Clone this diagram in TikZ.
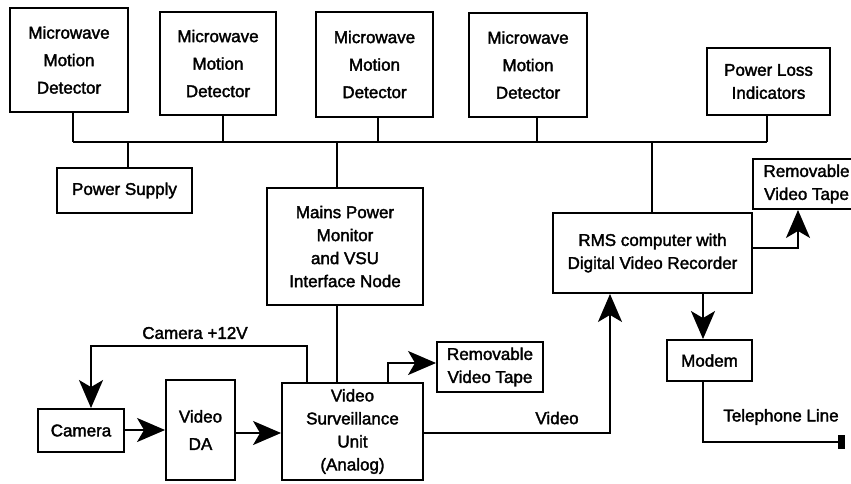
\documentclass[tikz,border=0pt]{standalone}
\usepackage{fontspec}
\setmainfont{Liberation Sans}[BoldFont={Liberation Sans}, BoldFeatures={FakeBold=2}]
\usetikzlibrary{arrows.meta}
\begin{document}
\begin{tikzpicture}[x=1pt,y=-1pt,
  box/.style={draw, line width=1.9pt, align=center, inner sep=0pt, font=\fontsize{17}{23}\selectfont\bfseries},
  mdbox/.style={box, font=\fontsize{17}{27.5}\selectfont\bfseries},
  wire/.style={line width=1.9pt},
  arr/.style={wire, -{Stealth[length=28pt,width=24pt,inset=7pt]}},
  lbl/.style={inner sep=0pt, font=\fontsize{17}{20}\selectfont\bfseries}]
\path[use as bounding box, clip] (0,0) rectangle (851,483);
% top boxes
\node[mdbox, minimum width=118pt, minimum height=104pt] (md1) at (69,60) {Microwave\\Motion\\Detector};
\node[mdbox, minimum width=116pt, minimum height=103pt] (md2) at (218,63.5) {Microwave\\Motion\\Detector};
\node[mdbox, minimum width=117pt, minimum height=105pt] (md3) at (374.5,64.5) {Microwave\\Motion\\Detector};
\node[mdbox, minimum width=118pt, minimum height=104pt] (md4) at (528,65) {Microwave\\Motion\\Detector};
\node[box, minimum width=123pt, minimum height=67pt] (pli) at (768.5,81.5) {Power Loss\\Indicators};
% middle boxes
\node[box, minimum width=135pt, minimum height=45pt] (ps) at (124.5,190.5) {Power Supply};
\node[box, minimum width=156pt, minimum height=117pt] (mains) at (345,246.5) {Mains Power\\Monitor\\and VSU\\Interface Node};
\node[box, minimum width=199pt, minimum height=80pt] (rms) at (652.5,253) {RMS computer with\\Digital Video Recorder};
\node[box, minimum width=107pt, minimum height=50pt] (tape1) at (806.5,184) {Removable\\Video Tape};
\node[box, minimum width=106pt, minimum height=50pt] (tape2) at (490,367) {Removable\\Video Tape};
\node[box, minimum width=85pt, minimum height=41pt] (modem) at (709.5,360.5) {Modem};
% bottom boxes
\node[box, minimum width=141pt, minimum height=97pt] (vsu) at (352.5,431.5) {Video\\Surveillance\\Unit\\(Analog)};
\node[box, minimum width=86pt, minimum height=43pt] (cam) at (81,430.5) {Camera};
\node[mdbox, minimum width=69pt, minimum height=100pt] (da) at (200.5,430) {Video\\DA};
\node[fill, minimum width=7pt, minimum height=14pt, inner sep=0pt] (tel) at (841.5,442) {};
% bus
\coordinate (b1) at (73,142);
\coordinate (b2) at (223,142);
\coordinate (b3) at (378,142);
\coordinate (b4) at (537,142);
\coordinate (b5) at (767,142);
\coordinate (bp) at (128,142);
\coordinate (bm) at (337,142);
\coordinate (br) at (652,142);
\draw[wire] (b1) -- (b5);
\draw[wire] (md1.south -| b1) -- (b1);
\draw[wire] (md2.south -| b2) -- (b2);
\draw[wire] (md3.south -| b3) -- (b3);
\draw[wire] (md4.south -| b4) -- (b4);
\draw[wire] (pli.south -| b5) -- (b5);
\draw[wire] (bp) -- (ps.north -| bp);
\draw[wire] (bm) -- (mains.north -| bm);
\draw[wire] (br) -- (rms.north -| br);
% mains to vsu
\draw[wire] (mains.south -| bm) -- (vsu.north -| bm);
% camera +12V
\coordinate (c12a) at (307,346);
\coordinate (c12b) at (91,346);
\draw[arr] (vsu.north -| c12a) -- (c12a) -- (c12b) -- (cam.north -| c12b);
\node[lbl] (c12lbl) at (195,333) {Camera +12V};
% vsu to tape2
\coordinate (vt) at (388,363);
\draw[arr] (vsu.north -| vt) -- (vt) -- (tape2.west |- vt);
% camera -> DA -> VSU
\coordinate (ya) at (0,430);
\coordinate (yb) at (0,433);
\draw[arr] (cam.east |- ya) -- (da.west |- ya);
\draw[arr] (da.east |- yb) -- (vsu.west |- yb);
% VSU -> RMS video
\coordinate (vv) at (610,433);
\draw[arr] (vsu.east |- vv) -- (vv) -- (rms.south -| vv);
\node[lbl] (vlbl) at (557,418) {Video};
% RMS -> tape1
\coordinate (rt) at (798,248);
\draw[arr] (rms.east |- rt) -- (rt) -- (tape1.south -| rt);
% RMS -> modem
\coordinate (rmx) at (703,0);
\draw[arr] (rms.south -| rmx) -- (modem.north -| rmx);
% modem -> telephone line
\coordinate (tl) at (703,442);
\draw[wire] (modem.south -| tl) -- (tl) -- (tel.west);
\node[lbl] (tlbl) at (781,417) {Telephone Line};
\end{tikzpicture}
\end{document}
